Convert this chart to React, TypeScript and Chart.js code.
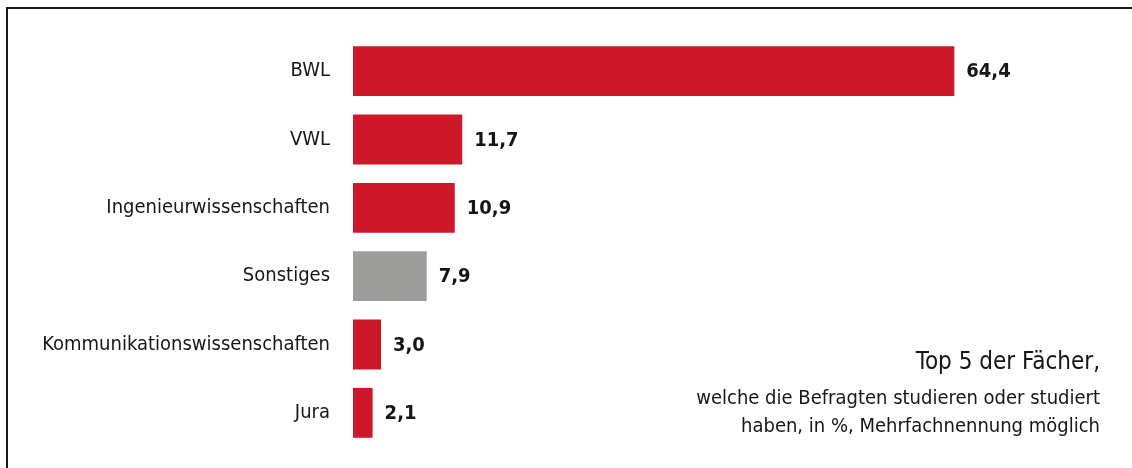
import React, { useEffect, useRef } from "react";
import { Chart, registerables } from "chart.js";

Chart.register(...registerables);

const categories = [
  "BWL",
  "VWL",
  "Ingenieurwissenschaften",
  "Sonstiges",
  "Kommunikationswissenschaften",
  "Jura",
];
const values = [64.4, 11.7, 10.9, 7.9, 3.0, 2.1];
const valueLabels = ["64,4", "11,7", "10,9", "7,9", "3,0", "2,1"];
const barColors = ["#cc1829", "#cc1829", "#cc1829", "#9d9d9c", "#cc1829", "#cc1829"];
const titleLine = "Top 5 der Fächer,";
const subtitleLines = [
  "welche die Befragten studieren oder studiert",
  "haben, in %, Mehrfachnennung möglich",
];

const FONT = "'DejaVu Sans Condensed', 'Liberation Sans Narrow', 'DejaVu Sans', sans-serif";
const TEXT = "#161616";

const labelPlugin = {
  id: "valueLabelsAndTitle",
  afterDatasetsDraw(chart: any) {
    const ctx = chart.ctx;
    const meta = chart.getDatasetMeta(0);
    ctx.save();
    ctx.fillStyle = TEXT;
    ctx.font = `bold 20px ${FONT}`;
    ctx.textAlign = "left";
    ctx.textBaseline = "middle";
    meta.data.forEach((el: any, i: number) => {
      ctx.fillText(valueLabels[i], el.x + 12, el.y + 1);
    });
    ctx.textAlign = "right";
    ctx.textBaseline = "alphabetic";
    ctx.font = `24px ${FONT}`;
    ctx.fillText(titleLine, 1100, 369);
    ctx.font = `20px ${FONT}`;
    ctx.fillText(subtitleLines[0], 1100, 404);
    ctx.fillText(subtitleLines[1], 1100, 432);
    ctx.restore();
  },
};

export default function App() {
  const ref = useRef<HTMLCanvasElement | null>(null);
  useEffect(() => {
    if (!ref.current) return;
    const chart = new Chart(ref.current, {
      type: "bar",
      data: {
        labels: categories,
        datasets: [
          {
            data: values,
            backgroundColor: barColors,
            barPercentage: 0.73,
            categoryPercentage: 1,
          },
        ],
      },
      options: {
        indexAxis: "y",
        responsive: false,
        animation: false,
        layout: { padding: { top: 37, bottom: 21, right: 32, left: 0 } },
        scales: {
          x: { display: false, min: 0, max: 80 },
          y: {
            grid: { display: false, drawTicks: false },
            border: { display: false },
            ticks: {
              color: TEXT,
              font: { family: FONT, size: 20 },
              padding: 23,
            },
            afterFit: (s: any) => {
              s.width = 353;
              s.paddingTop = 0;
              s.paddingBottom = 0;
            },
          },
        },
        plugins: {
          legend: { display: false },
          tooltip: { enabled: false },
        },
      },
      plugins: [labelPlugin],
    });
    return () => chart.destroy();
  }, []);
  return (
    <div
      style={{
        position: "absolute",
        left: 0,
        top: 0,
        width: 1132,
        height: 468,
        background: "#fff",
        overflow: "hidden",
      }}
    >
      <div
        style={{
          position: "absolute",
          left: 6,
          top: 7,
          right: -10,
          bottom: -10,
          borderTop: "2px solid #1a1a1a",
          borderLeft: "2px solid #1a1a1a",
        }}
      />
      <canvas ref={ref} width={1132} height={468} style={{ position: "absolute", left: 0, top: 0 }} />
    </div>
  );
}
